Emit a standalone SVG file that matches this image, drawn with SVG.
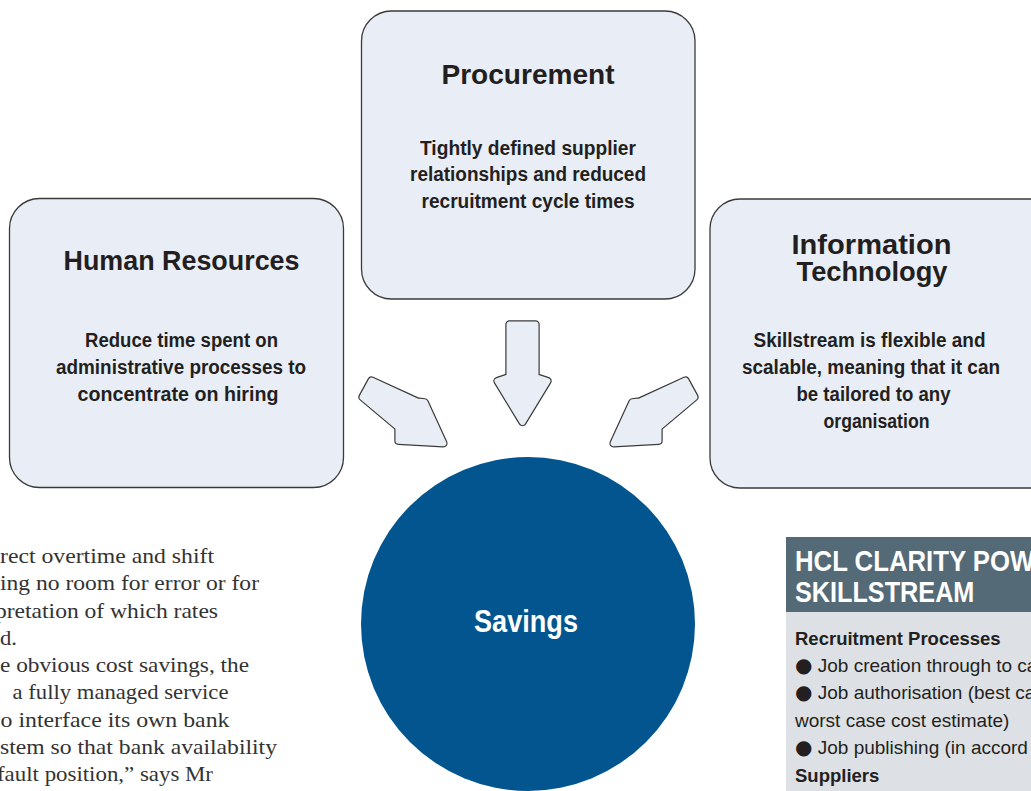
<svg xmlns="http://www.w3.org/2000/svg" xmlns:xlink="http://www.w3.org/1999/xlink" width="1031" height="791" viewBox="0 0 1031 791">
  <style>
    .box { fill: #e9eef6; stroke: #3a3a3a; stroke-width: 1.3; }
    .title { font-family: "Liberation Sans", Arial, sans-serif; font-weight: bold; font-size: 28px; fill: #231f20; text-anchor: middle; }
    .title-sm { font-family: "Liberation Sans", Arial, sans-serif; font-weight: bold; font-size: 27px; fill: #231f20; text-anchor: middle; }
    .body { font-family: "Liberation Sans", Arial, sans-serif; font-weight: bold; font-size: 19.5px; fill: #231f20; text-anchor: middle; }
    .arrow-edge { fill: #e9eef6; stroke: #3a3a3a; stroke-width: 8.4; stroke-linejoin: round; }
    .arrow-fill { fill: #e9eef6; stroke: #e9eef6; stroke-width: 6; stroke-linejoin: round; }
    .article { font-family: "Liberation Serif", "Times New Roman", serif; font-size: 21.5px; fill: #333333; }
    .side-head { font-family: "Liberation Sans", Arial, sans-serif; font-weight: bold; font-size: 29px; fill: #ffffff; }
    .side-sub { font-family: "Liberation Sans", Arial, sans-serif; font-weight: bold; font-size: 18.5px; fill: #231f20; }
    .side-txt { font-family: "Liberation Sans", "DejaVu Sans", Arial, sans-serif; font-size: 19px; fill: #231f20; }
    .dot { font-family: "DejaVu Sans", sans-serif; font-size: 20px; }
  </style>
  <defs>
    <!-- arrow outlines, inset so the round-joined stroke gives soft corners -->
    <path id="arrow-diag" d="M371.5,380.6 L417,401.4 L424.6,402.3 L443.4,443.2 L398.5,440.7 L398.5,427.4 L362.5,397.1 Z"/>
    <path id="arrow-down" d="M509.5,324.5 L535.5,324.5 L535.5,377 L547.5,381 L522.5,422 L497.5,381 L509.5,377 Z"/>
  </defs>

  <rect width="1031" height="791" fill="#ffffff"/>

  <!-- article column, cut at the page edge -->
  <g id="article">
    <text class="article" x="0" y="563" textLength="214" lengthAdjust="spacingAndGlyphs">rect overtime and shift</text>
    <text class="article" x="0" y="590" textLength="259" lengthAdjust="spacingAndGlyphs">ing no room for error or for</text>
    <text class="article" x="-5" y="617.5" textLength="223" lengthAdjust="spacingAndGlyphs">pretation of which rates</text>
    <text class="article" x="0" y="645" textLength="17" lengthAdjust="spacingAndGlyphs">d.</text>
    <text class="article" x="0" y="672" textLength="249" lengthAdjust="spacingAndGlyphs">e obvious cost savings, the</text>
    <text class="article" x="12.5" y="699" textLength="216" lengthAdjust="spacingAndGlyphs">a fully managed service</text>
    <text class="article" x="0.5" y="726.5" textLength="229" lengthAdjust="spacingAndGlyphs">o interface its own bank</text>
    <text class="article" x="0" y="753.5" textLength="277" lengthAdjust="spacingAndGlyphs">stem so that bank availability</text>
    <text class="article" x="-3" y="781" textLength="216" lengthAdjust="spacingAndGlyphs">fault position,” says Mr</text>
  </g>

  <!-- sidebar panel -->
  <g id="sidebar">
    <rect x="786" y="537" width="250" height="75" fill="#546a76"/>
    <rect x="786" y="612" width="250" height="180" fill="#dde1e5"/>
    <g transform="translate(795,0) scale(0.888,1)">
      <text class="side-head" x="0" y="571.5">HCL CLARITY POW</text>
    </g>
    <g transform="translate(795,0) scale(0.87,1)">
      <text class="side-head" x="0" y="602">SKILLSTREAM</text>
    </g>
    <text class="side-sub" x="795" y="645">Recruitment Processes</text>
    <text class="side-txt" x="795" y="672"><tspan class="dot">●</tspan> Job creation through to ca</text>
    <text class="side-txt" x="795" y="698.5"><tspan class="dot">●</tspan> Job authorisation (best ca</text>
    <text class="side-txt" x="795" y="726.5">worst case cost estimate)</text>
    <text class="side-txt" x="795" y="754"><tspan class="dot">●</tspan> Job publishing (in accord</text>
    <text class="side-sub" x="795" y="781.5">Suppliers</text>
  </g>

  <!-- arrows pointing into the savings circle -->
  <g id="connectors">
    <g id="arrow-hr">
      <use xlink:href="#arrow-diag" class="arrow-edge"/>
      <use xlink:href="#arrow-diag" class="arrow-fill"/>
    </g>
    <g id="arrow-proc">
      <use xlink:href="#arrow-down" class="arrow-edge"/>
      <use xlink:href="#arrow-down" class="arrow-fill"/>
    </g>
    <g id="arrow-it" transform="translate(1057,0) scale(-1,1)">
      <use xlink:href="#arrow-diag" class="arrow-edge"/>
      <use xlink:href="#arrow-diag" class="arrow-fill"/>
    </g>
  </g>

  <g id="procurement">
    <rect class="box" x="361.5" y="11" width="333.5" height="288" rx="30"/>
    <text class="title" x="528" y="84" textLength="173" lengthAdjust="spacingAndGlyphs">Procurement</text>
    <text class="body" x="528" y="154.5" textLength="216" lengthAdjust="spacingAndGlyphs">Tightly defined supplier</text>
    <text class="body" x="528" y="181" textLength="236" lengthAdjust="spacingAndGlyphs">relationships and reduced</text>
    <text class="body" x="528" y="207.5" textLength="213" lengthAdjust="spacingAndGlyphs">recruitment cycle times</text>
  </g>

  <g id="human-resources">
    <rect class="box" x="9.5" y="198.5" width="334" height="289" rx="30"/>
    <text class="title" x="181.5" y="270" textLength="236" lengthAdjust="spacingAndGlyphs">Human Resources</text>
    <text class="body" x="181.5" y="347" textLength="193" lengthAdjust="spacingAndGlyphs">Reduce time spent on</text>
    <text class="body" x="181" y="374" textLength="250" lengthAdjust="spacingAndGlyphs">administrative processes to</text>
    <text class="body" x="178" y="401" textLength="201" lengthAdjust="spacingAndGlyphs">concentrate on hiring</text>
  </g>

  <g id="information-technology">
    <rect class="box" x="710" y="199" width="360" height="289" rx="30"/>
    <text class="title-sm" x="871.5" y="254" textLength="160" lengthAdjust="spacingAndGlyphs">Information</text>
    <text class="title-sm" x="872" y="280.5" textLength="151" lengthAdjust="spacingAndGlyphs">Technology</text>
    <text class="body" x="869.5" y="346.5" textLength="232" lengthAdjust="spacingAndGlyphs">Skillstream is flexible and</text>
    <text class="body" x="871" y="373.5" textLength="258" lengthAdjust="spacingAndGlyphs">scalable, meaning that it can</text>
    <text class="body" x="873.5" y="400.5" textLength="154" lengthAdjust="spacingAndGlyphs">be tailored to any</text>
    <text class="body" x="876.5" y="427.5" textLength="106" lengthAdjust="spacingAndGlyphs">organisation</text>
  </g>

  <g id="savings">
    <circle cx="528" cy="624" r="167" fill="#02558e"/>
    <text x="526" y="631.5" font-family="Liberation Sans, Arial, sans-serif" font-weight="bold" font-size="31" fill="#ffffff" text-anchor="middle" textLength="104" lengthAdjust="spacingAndGlyphs">Savings</text>
  </g>
</svg>
